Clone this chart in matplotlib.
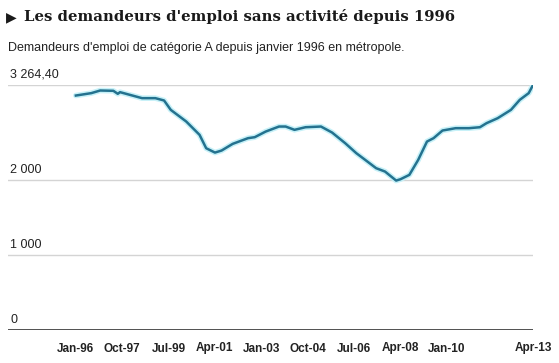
import matplotlib
matplotlib.use("Agg")
from matplotlib import pyplot as plt
import pandas as pd

# demandeurs d'emploi cat. A (milliers)
months = ["1996-01", "1996-08", "1996-12", "1997-06", "1997-08", "1997-09",
          "1998-07", "1999-01", "1999-05", "1999-08", "2000-03", "2000-09",
          "2000-12", "2001-04", "2001-07", "2001-12", "2002-07", "2002-10",
          "2003-03", "2003-09", "2003-12", "2004-04", "2004-09", "2005-04",
          "2005-09", "2006-03", "2006-08", "2006-12", "2007-05", "2007-09",
          "2008-02", "2008-04", "2008-08", "2008-12", "2009-04", "2009-07",
          "2009-11", "2010-05", "2010-11", "2011-04", "2011-07", "2011-12",
          "2012-06", "2012-10", "2013-02", "2013-04"]
values = [3124, 3156, 3191, 3187, 3147, 3169,
          3089, 3089, 3058, 2933, 2778, 2600,
          2422, 2364, 2391, 2480, 2556, 2569,
          2644, 2711, 2711, 2667, 2702, 2711,
          2631, 2489, 2356, 2267, 2156, 2111,
          1991, 2009, 2067, 2267, 2511, 2556,
          2658, 2689, 2689, 2702, 2756, 2822,
          2933, 3067, 3156, 3264.4]

tick_months = ["1996-01", "1997-10", "1999-07", "2001-04", "2003-01",
               "2004-10", "2006-07", "2008-04", "2010-01", "2013-04"]
tick_labels = ["Jan-96", "Oct-97", "Jul-99", "Apr-01", "Jan-03",
               "Oct-04", "Jul-06", "Apr-08", "Jan-10", "Apr-13"]
grid_values = [0, 1000, 2000, 3264.4]
grid_labels = ["0", "1 000", "2 000", "3 264,40"]

dates = pd.to_datetime(months)
ticks = pd.to_datetime(tick_months)

W, H = 559, 363
fig = plt.figure(figsize=(W / 100, H / 100), dpi=100)
ax = fig.add_axes([8 / W, 1 - 330 / H, (533 - 8) / W, (330 - 85) / H])

# grid lines + labels sitting just above them
for v, lab in zip(grid_values, grid_labels):
    if v == 0:
        ax.axhline(v, color="#333333", lw=1.2, zorder=1)
    else:
        ax.axhline(v, color="#d4d4d4", lw=1.0, zorder=1)
    ax.annotate(lab, xy=(0, v), xycoords=("axes fraction", "data"),
                xytext=(1.5, 3), textcoords="offset points",
                ha="left", va="bottom", fontsize=9, color="#222222",
                family="Liberation Sans")

ax.plot(dates, values, color="#c6f1f8", lw=4.0, solid_capstyle="round", zorder=2)
ax.plot(dates, values, color="#24728f", lw=1.8, zorder=3)

ax.set_xlim(pd.Timestamp("1993-06-10"), pd.Timestamp("2013-04-01"))
ax.set_ylim(0, 3264.4)
ax.set_xticks(ticks)
ax.set_xticklabels(tick_labels, fontsize=8.5, fontweight="bold",
                   family="Liberation Sans", color="#222222")
ax.tick_params(axis="x", length=0, pad=9)
ax.set_yticks([])
for s in ax.spines.values():
    s.set_visible(False)
ax.patch.set_alpha(0)

fig.text(6 / W, 1 - 17 / H, "\u25b6", fontsize=10, family="DejaVu Sans",
         color="#1a1a1a", va="center", ha="left")
fig.text(24 / W, 1 - 17 / H, "Les demandeurs d'emploi sans activité depuis 1996",
         fontsize=10.7, fontweight="bold", family="DejaVu Serif",
         color="#1a1a1a", va="center", ha="left")
fig.text(8 / W, 1 - 48 / H,
         "Demandeurs d'emploi de catégorie A depuis janvier 1996 en métropole.",
         fontsize=9, family="Liberation Sans", color="#222222",
         va="center", ha="left")

fig.savefig("out.png", dpi=100)
